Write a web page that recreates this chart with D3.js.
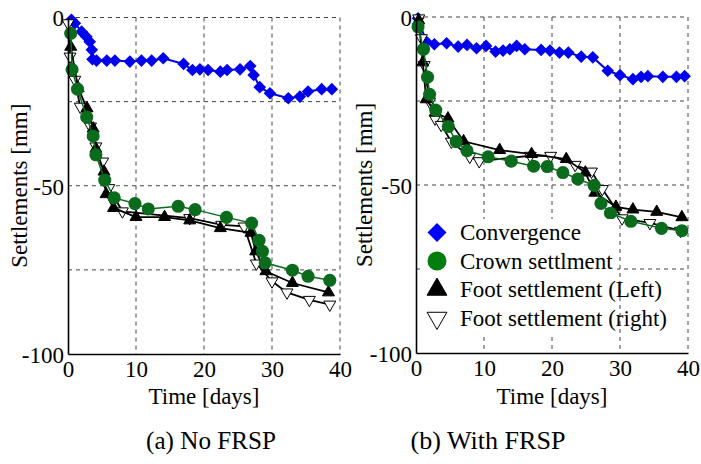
<!DOCTYPE html>
<html>
<head>
<meta charset="utf-8">
<script src="https://cdn.jsdelivr.net/npm/d3@7"></script>
<style>
  body { margin: 0; background: #fff; }
  text { font-family: "Liberation Serif", "Times New Roman", Times, "DejaVu Serif", serif; }
</style>
</head>
<body>
<div id="chart"></div>
<script>
// ---- data (days, settlement in mm) ----
const seriesNames = ["Convergence", "Crown settlment", "Foot settlement (Left)", "Foot settlement (right)"];
const panelCaptions = ["(a) No FRSP", "(b) With FRSP"];
const xTicks = [0, 10, 20, 30, 40];
const yTicks = [0, -50, -100];

// (a) No FRSP
const convA_t = [0.5, 1.0, 2.0, 2.7, 3.2, 3.5, 3.6, 4.2, 5.7, 6.9, 9.1, 10.8, 12.3, 14.0, 17.0, 18.3, 19.4, 20.6, 22.4, 23.4, 25.3, 26.8, 27.3, 28.2, 29.7, 32.4, 34.1, 35.3, 37.3, 38.8];
const convA_v = [-0.7, -1.7, -4.2, -5.7, -7.2, -9.6, -12.4, -12.8, -12.8, -12.8, -13.1, -12.8, -12.8, -12.1, -13.8, -15.6, -15.4, -15.6, -16.1, -15.6, -15.4, -14.4, -17.1, -20.7, -22.5, -24.0, -23.5, -22.0, -21.3, -21.3];
const crownA_t = [0.4, 0.6, 1.4, 2.75, 3.7, 4.1, 5.4, 6.8, 9.85, 11.8, 16.2, 18.7, 23.3, 27.0, 28.1, 28.6, 29.0, 33.0, 35.3, 38.5];
const crownA_v = [-4.7, -15.5, -21.3, -29.6, -35.2, -40.8, -48.3, -53.6, -55.3, -56.9, -56.1, -57.1, -59.4, -61.1, -66.2, -69.5, -72.9, -75.1, -76.9, -78.1];
const footLA_t = [0.4, 1.5, 2.8, 3.7, 4.1, 5.3, 5.6, 6.7, 10.0, 14.2, 17.9, 22.4, 26.9, 27.6, 29.1, 33.0, 38.3];
const footLA_v = [-8.7, -21.0, -27.0, -33.0, -39.0, -45.8, -52.5, -56.6, -59.3, -59.3, -60.3, -62.6, -64.0, -69.5, -75.4, -78.9, -81.7];
const footRA_t = [0.0, 0.3, 1.0, 1.8, 3.3, 4.1, 5.1, 6.0, 8.0, 17.9, 22.6, 25.9, 27.7, 30.0, 32.2, 35.5, 38.5];
const footRA_v = [-1.7, -11.6, -18.5, -26.5, -32.4, -38.3, -42.8, -50.7, -57.6, -59.6, -61.6, -62.1, -73.1, -78.4, -81.7, -83.9, -85.3];

// (b) With FRSP
const convB_t = [0.3, 1.5, 2.7, 4.5, 6.2, 7.5, 8.9, 10.3, 11.7, 12.8, 13.8, 14.8, 16.0, 18.4, 19.7, 21.1, 22.4, 24.3, 26.0, 28.2, 30.0, 31.9, 33.1, 34.1, 36.3, 38.3, 39.5];
const convB_v = [-0.4, -7.3, -8.1, -7.8, -8.8, -8.3, -9.3, -8.6, -10.3, -10.0, -9.6, -8.6, -9.6, -9.8, -10.0, -10.6, -10.6, -11.8, -12.0, -16.0, -17.3, -18.5, -17.8, -17.6, -17.8, -17.8, -17.6];
const crownB_t = [0.3, 1.1, 1.7, 2.0, 2.9, 4.75, 5.9, 7.5, 10.6, 14.0, 17.3, 19.3, 21.6, 23.8, 26.2, 27.2, 28.6, 31.6, 36.1, 39.1];
const crownB_v = [-2.9, -9.6, -17.9, -23.0, -27.7, -32.6, -37.1, -39.8, -41.6, -42.9, -44.4, -44.5, -46.3, -48.2, -50.1, -55.5, -58.4, -60.8, -62.9, -63.6];
const footLB_t = [0.4, 1.0, 1.5, 2.9, 4.7, 7.0, 12.3, 17.0, 22.1, 24.9, 26.3, 29.4, 31.9, 35.4, 39.1];
const footLB_v = [-1.0, -13.5, -24.5, -28.5, -30.2, -37.0, -39.6, -40.8, -42.3, -46.3, -52.3, -56.5, -57.3, -58.0, -59.6];
const footRB_t = [0.4, 0.8, 1.2, 2.0, 2.8, 3.7, 5.2, 7.9, 9.3, 16.8, 19.8, 23.4, 25.8, 27.4, 30.3, 34.4, 38.9];
const footRB_v = [-0.4, -6.3, -14.3, -25.2, -30.2, -32.1, -37.1, -41.6, -42.9, -41.3, -41.3, -44.0, -46.0, -51.2, -59.9, -61.3, -63.6];

const W = 701, H = 464;
const FONT = "'Liberation Serif', 'Times New Roman', Times, 'DejaVu Serif', serif";
const svg = d3.select("#chart").append("svg").attr("width", W).attr("height", H)
  .attr("font-family", FONT);

const zip = (t, v) => t.map((d, i) => ({ t: d, v: v[i] }));

// marker styles, in legend order
const styles = [
  { line: "#0000dd", lw: 2, sym: d3.symbolSquare, size: 80, rot: 45, fill: "#0000ee", stroke: "none", lsize: 180, lfill: "#0000ff" },
  { line: "#0b6b1c", lw: 1.5, sym: d3.symbolCircle, size: 135, rot: 0, fill: "#0b6b1c", stroke: "none", lsize: 285, lfill: "#007f0e" },
  { line: "#000", lw: 1.8, sym: d3.symbolTriangle, size: 62, rot: 0, fill: "#000", stroke: "#000", lsize: 170, lfill: "#000" },
  { line: "#000", lw: 1.8, sym: d3.symbolTriangle, size: 62, rot: 180, fill: "#fff", stroke: "#000", lsize: 170, lfill: "#fff" }
];
const drawOrder = [0, 3, 2, 1];

const panels = [
  { x0: 68, x1: 340, y0: 17.5, y1: 354, ylabX: 27, capX: 211,
    series: [zip(convA_t, convA_v), zip(crownA_t, crownA_v), zip(footLA_t, footLA_v), zip(footRA_t, footRA_v)], legend: false },
  { x0: 416, x1: 688, y0: 17, y1: 353, ylabX: 372, capX: 488,
    series: [zip(convB_t, convB_v), zip(crownB_t, crownB_v), zip(footLB_t, footLB_v), zip(footRB_t, footRB_v)], legend: true }
];
const capWidths = [130, 155];

panels.forEach(function (p, pi) {
  const x = d3.scaleLinear().domain([0, 40]).range([p.x0, p.x1]);
  const y = d3.scaleLinear().domain([0, -100]).range([p.y0, p.y1]);
  const g = svg.append("g");

  // dashed grid + top/right borders
  const dash = "4,4";
  g.selectAll(".vg").data([10, 20, 30, 40]).enter().append("line")
    .attr("x1", d => x(d)).attr("x2", d => x(d))
    .attr("y1", y(0)).attr("y2", y(-100))
    .attr("stroke", "#444").attr("stroke-width", 1).attr("stroke-dasharray", dash);
  g.selectAll(".hg").data([0, -25, -50, -75]).enter().append("line")
    .attr("x1", x(0)).attr("x2", x(40))
    .attr("y1", d => y(d)).attr("y2", d => y(d))
    .attr("stroke", "#444").attr("stroke-width", 1).attr("stroke-dasharray", dash);

  // series
  drawOrder.forEach(function (si) {
    const s = styles[si], data = p.series[si];
    g.append("path").datum(data)
      .attr("fill", "none").attr("stroke", s.line).attr("stroke-width", s.lw)
      .attr("d", d3.line().x(d => x(d.t)).y(d => y(d.v)));
    g.selectAll(null).data(data).enter().append("path")
      .attr("d", d3.symbol().type(s.sym).size(s.size))
      .attr("transform", d => "translate(" + x(d.t) + "," + y(d.v) + ") rotate(" + s.rot + ")")
      .attr("fill", s.fill).attr("stroke", s.stroke).attr("stroke-width", 1);
  });

  // axes
  const xAxis = g.append("g").attr("transform", "translate(0," + y(-100) + ")")
    .call(d3.axisBottom(x).tickValues(xTicks).tickSize(0).tickPadding(7).tickFormat(d => String(d)));
  const yAxis = g.append("g").attr("transform", "translate(" + x(0) + ",0)")
    .call(d3.axisLeft(y).tickValues(yTicks).tickSize(0).tickPadding(4).tickFormat(d => String(d)));
  [xAxis, yAxis].forEach(function (a) {
    a.attr("font-family", FONT).attr("font-size", 23);
    a.select(".domain").attr("stroke", "#000").attr("stroke-width", 1.6);
    a.selectAll("text").attr("fill", "#000");
  });
  yAxis.selectAll("text").attr("dy", "0.36em");

  g.append("text").attr("x", (p.x0 + p.x1) / 2).attr("y", 404)
    .attr("text-anchor", "middle").attr("font-size", 23).text("Time [days]");
  g.append("text")
    .attr("transform", "translate(" + p.ylabX + "," + (p.y0 + p.y1) / 2 + ") rotate(-90)")
    .attr("text-anchor", "middle").attr("font-size", 23).text("Settlements [mm]");

  g.append("text").attr("x", p.capX).attr("y", 449).attr("text-anchor", "middle")
    .attr("font-size", 25).attr("textLength", capWidths[pi]).attr("lengthAdjust", "spacingAndGlyphs")
    .text(panelCaptions[pi]);

  if (p.legend) {
    const lg = g.append("g");
    lg.append("rect").attr("x", 420).attr("y", 219).attr("width", 197).attr("height", 117).attr("fill", "#fff");
    seriesNames.forEach(function (name, i) {
      const s = styles[i], cy = 232.5 + i * 28.5;
      lg.append("path").attr("d", d3.symbol().type(s.sym).size(s.lsize))
        .attr("transform", "translate(437," + cy + ") rotate(" + s.rot + ")")
        .attr("fill", s.lfill).attr("stroke", s.stroke).attr("stroke-width", 1);
      lg.append("text").attr("x", 460).attr("y", cy + 7.5).attr("font-size", 23).text(name);
    });
  }
});
</script>
</body>
</html>
